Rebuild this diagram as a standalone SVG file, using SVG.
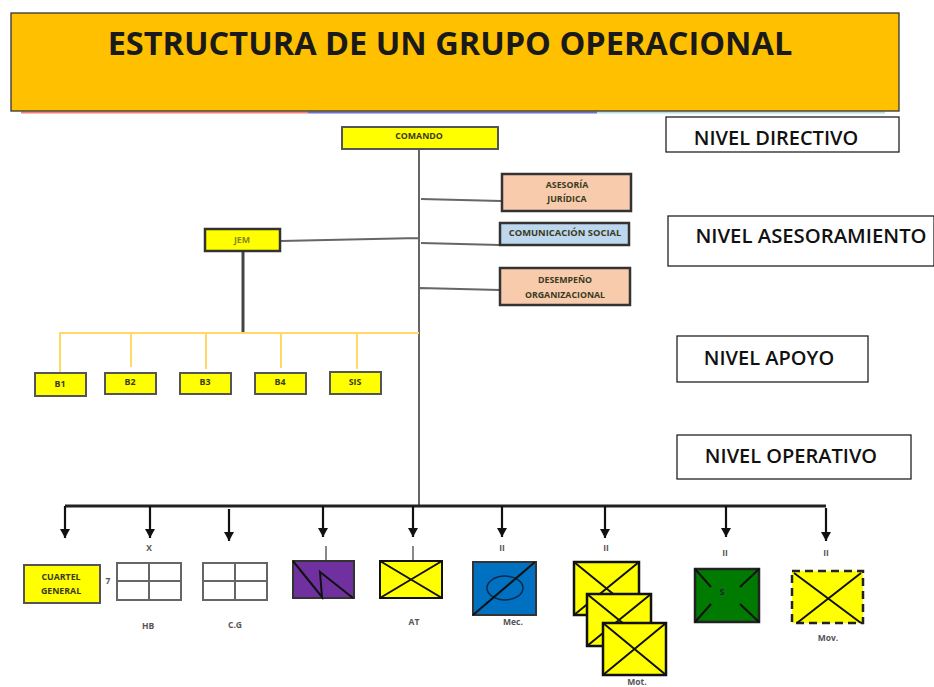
<svg xmlns="http://www.w3.org/2000/svg" width="934" height="687" viewBox="0 0 934 687">
<style>
text{font-family:"Open Sans","Liberation Sans",sans-serif;text-anchor:middle}
.s{font-size:8.8px;font-weight:700;fill:#3a3a20}
.lv{font-size:20px;font-weight:600;fill:#111}
.lb{fill:#fff;stroke:#222;stroke-width:1.3}
.y{fill:#ffff00;stroke:#555;stroke-width:2}
.p{fill:#f8cbad;stroke:#333;stroke-width:2.5}
.g{fill:none;stroke:#666;stroke-width:2}
.x{stroke:#111;stroke-width:2;fill:none}
.c{stroke:#666;stroke-width:2;fill:none}
.o{stroke:#ffd966;stroke-width:2;fill:none}
.a{stroke:#111;stroke-width:2.2;fill:none;marker-end:url(#h)}
.u{fill:#ffff00;stroke:#111;stroke-width:2.5}
.t{font-size:8.5px;font-weight:700;fill:#555}
</style>
<defs><marker id="h" markerUnits="userSpaceOnUse" markerWidth="11" markerHeight="11" refX="9" refY="5" orient="auto"><path d="M0 0L9 5L0 10z" fill="#111"/></marker></defs>
<rect width="934" height="687" fill="#fff"/>
<g id="title"><path d="M21 112.5H308" stroke="#f47c7c" stroke-width="2" fill="none"/><path d="M308 112.5H597" stroke="#7070cc" stroke-width="2" fill="none"/><path d="M597 112.5H885" stroke="#b5dde6" stroke-width="2" fill="none"/><rect x="11" y="13" width="888" height="98" fill="#ffc000" stroke="#333" stroke-width="1.3"/>
<text x="450" y="55" style="font-size:32.5px;font-weight:700;fill:#1a1a1a">ESTRUCTURA DE UN GRUPO OPERACIONAL</text></g>
<g id="connectors">
<path class="c" d="M419 149V505M421 199L501 201M421 243L500 245M281 241L419 238M420 288L500 290"/>
<path d="M243 251V332" stroke="#444" stroke-width="3" fill="none"/>
<path class="o" d="M60 373V333H419M131 367V333M206 369V333M281 368V333M357 369V333"/>
<path d="M65 506H826" stroke="#222" stroke-width="3" fill="none"/>
<path class="a" d="M65 506V538"/><path class="a" d="M150 506V538"/><path class="a" d="M229 509V541"/><path class="a" d="M323 506V537"/><path class="a" d="M413 506V537"/><path class="a" d="M502 506V537"/><path class="a" d="M605 506V538"/><path class="a" d="M726 506V537"/><path class="a" d="M826 508V541"/>
<path d="M326 546V560M413 546V560" stroke="#888" stroke-width="2" fill="none"/>
</g>
<g id="comando"><rect class="y" x="342" y="127" width="156" height="22"/><text class="s" x="419" y="139">COMANDO</text></g>
<g id="asesoria"><rect class="p" x="502" y="174" width="129" height="37"/><text class="s" x="567" y="188">ASESORÍA</text><text class="s" x="567" y="202">JURÍDICA</text></g>
<g id="comunicacion"><rect x="500" y="223" width="129" height="22" fill="#bdd7ee" stroke="#333" stroke-width="2.5"/><text class="s" x="565" y="236" style="font-size:9.4px">COMUNICACIÓN SOCIAL</text></g>
<g id="desempeno"><rect class="p" x="500" y="268" width="130" height="37"/><text class="s" x="565" y="283">DESEMPEÑO</text><text class="s" x="565" y="298">ORGANIZACIONAL</text></g>
<g id="jem"><rect x="205" y="229" width="75" height="22" fill="#ffff00" stroke="#333" stroke-width="2.5"/><text class="s" x="242" y="243" style="fill:#888820">JEM</text></g>
<g id="b1"><rect class="y" x="35" y="373" width="51" height="23"/><text class="s" x="60" y="387">B1</text></g>
<g id="b2"><rect class="y" x="105" y="373" width="51" height="21"/><text class="s" x="130" y="385">B2</text></g>
<g id="b3"><rect class="y" x="180" y="373" width="51" height="21"/><text class="s" x="205" y="385">B3</text></g>
<g id="b4"><rect class="y" x="255" y="373" width="51" height="21"/><text class="s" x="280" y="385">B4</text></g>
<g id="sis"><rect class="y" x="330" y="372" width="51" height="22"/><text class="s" x="355" y="385">SIS</text></g>
<g id="nivel-directivo"><rect class="lb" x="666" y="117" width="233" height="35"/><text class="lv" x="776" y="145">NIVEL DIRECTIVO</text></g>
<g id="nivel-asesoramiento"><rect class="lb" x="668" y="216" width="266" height="50"/><text class="lv" x="811" y="243" style="font-size:20.3px">NIVEL ASESORAMIENTO</text></g>
<g id="nivel-apoyo"><rect class="lb" x="677" y="336" width="191" height="46"/><text class="lv" x="769" y="365">NIVEL APOYO</text></g>
<g id="nivel-operativo"><rect class="lb" x="677" y="435" width="234" height="44"/><text class="lv" x="791" y="463">NIVEL OPERATIVO</text></g>
<g id="cuartel"><rect class="y" x="24" y="565" width="76" height="38"/><text class="s" x="61" y="580">CUARTEL</text><text class="s" x="61" y="594">GENERAL</text></g>
<g id="hb"><text class="t" x="149" y="551">X</text><text class="t" x="108" y="584">7</text><path class="g" d="M117 563H181V600H117zM149 563V600M117 581H181"/><text class="t" x="148" y="629">HB</text></g>
<g id="cg"><path class="g" d="M203 563H267V600H203zM235 563V600M203 581H267"/><text class="t" x="235" y="628">C.G</text></g>
<g id="purple"><rect x="293" y="561" width="61" height="37" fill="#7030a0" stroke="#333" stroke-width="2"/><path class="x" d="M293 561L322 597L320 572L353 598"/></g>
<g id="at"><rect class="u" x="380" y="561" width="62" height="37" style="stroke-width:2"/><path class="x" d="M380 561L442 598M380 598L442 561"/><text class="t" x="414" y="625">AT</text></g>
<g id="mec"><text class="t" x="502" y="551">II</text><rect x="473" y="562" width="63" height="53" fill="#0070c0" stroke="#333" stroke-width="2"/><ellipse cx="505" cy="588" rx="18" ry="12" fill="none" stroke="#0a2a50" stroke-width="1.5"/><path class="x" d="M473 615L535 562"/><text class="t" x="513" y="625">Mec.</text></g>
<g id="mot"><text class="t" x="606" y="551">II</text>
<rect class="u" x="574" y="562" width="65" height="53"/><path class="x" d="M574 562L639 615M574 615L639 562"/>
<rect class="u" x="587" y="594" width="64" height="52"/><path class="x" d="M587 594L651 646M587 646L651 594"/>
<rect class="u" x="603" y="623" width="63" height="52"/><path class="x" d="M603 623L666 675M603 675L666 623"/><text class="t" x="637" y="685">Mot.</text></g>
<g id="s"><text class="t" x="725" y="556">II</text><rect x="695" y="569" width="64" height="53" fill="#007a00" stroke="#222" stroke-width="2.5"/><path class="x" d="M695 569L711 587M759 569L740 587M695 622L711 604M759 622L740 604"/><text class="s" x="722" y="595" style="fill:#223">S</text></g>
<g id="mov"><text class="t" x="826" y="556">II</text><rect x="792" y="571" width="71" height="52" fill="#ffff00" stroke="#222" stroke-width="2.5" stroke-dasharray="8 5"/><path class="x" d="M794 573L861 623M797 623L861 573"/><text class="t" x="828" y="641">Mov.</text></g>
</svg>
